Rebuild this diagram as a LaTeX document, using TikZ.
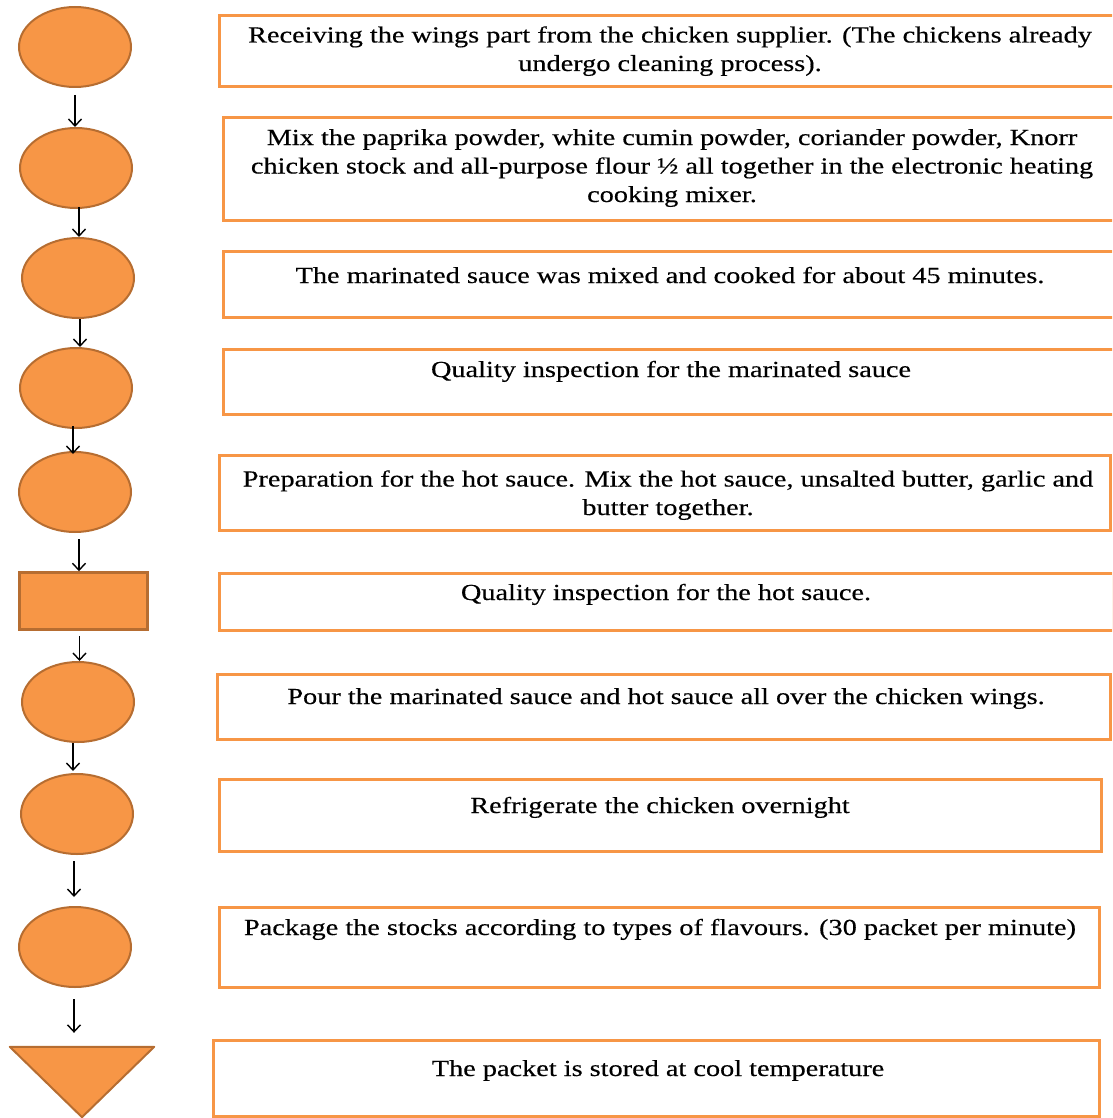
\documentclass[tikz,border=0pt]{standalone}
\usepackage{fontspec}
\setmainfont{Liberation Serif}[FakeStretch=1.23,FakeBold=0.4]
\usetikzlibrary{arrows.meta,calc,shapes.geometric}
\definecolor{accent}{HTML}{F79646}
\definecolor{accentdark}{HTML}{B66D31}

\begin{document}
\begin{tikzpicture}[x=1pt,y=-1pt,
  op/.style={ellipse, draw=accentdark, fill=accent, line width=2pt,
    minimum width=112pt, minimum height=80pt, inner sep=0pt},
  inspect/.style={rectangle, draw=accentdark, fill=accent, line width=2.5pt,
    minimum width=128pt, minimum height=57pt, inner sep=0pt},
  stepbox/.style={rectangle, draw=accent, line width=3pt, inner sep=0pt},
  steptext/.style={align=center, inner sep=0pt, anchor=base,
    font=\fontsize{23}{28.5}\selectfont},
  flow/.style={line width=1.4pt, -{Straight Barb[length=7pt,width=13pt,line width=1.4pt]}}
]
\useasboundingbox (0,0) rectangle (1112,1118);
\clip (0,0) rectangle (1112,1118);

% symbols column
\node[op] (o1) at (75,47) {};
\node[op] (o2) at (76,168) {};
\node[op] (o3) at (78,278) {};
\node[op] (o4) at (76,388) {};
\node[op] (o5) at (75,492) {};
\node[inspect] (r6) at (83.5,601) {};
\node[op] (o7) at (78,702) {};
\node[op] (o8) at (77,814) {};
\node[op] (o9) at (75,947) {};
\node[minimum width=144pt, minimum height=70pt, inner sep=0pt] (tri) at (82,1082) {};
\draw[draw=accentdark, fill=accent, line width=2pt, line join=round]
  (tri.north west) -- (tri.north east) -- (tri.south) -- cycle;

% connectors
\draw[flow, shorten <=7pt] (o1.south) -- (o1.south |- o2.north);
\draw[flow] ($(o2.south)+(3,-2)$) -- ($(o2.south |- o3.north)+(3,0)$);
\draw[flow] ($(o3.south)+(2,0)$) -- ($(o3.south |- o4.north)+(2,0)$);
\draw[flow] ($(o4.south)+(-3,-3)$) -- ($(o4.south |- o5.north)+(-3,3)$);
\draw[flow, shorten <=6pt] ($(o5.south)+(4,0)$) -- ($(o5.south |- r6.north)+(4,0)$);
\draw[flow, shorten <=5pt] ($(r6.south)+(-4,0)$) -- ($(r6.south |- o7.north)+(-4,0)$);
\draw[flow] ($(o7.south)+(-5,0)$) -- ($(o7.south |- o8.north)+(-5,-2)$);
\draw[flow, shorten <=6pt, shorten >=9pt] ($(o8.south)+(-3,0)$) -- ($(o8.south |- o9.north)+(-3,0)$);
\draw[flow, shorten <=11pt, shorten >=14pt] ($(o9.south)+(-1,0)$) -- ($(o9.south |- tri.north)+(-1,0)$);

% description boxes
\node[stepbox, minimum width=901pt, minimum height=71pt] (b1) at (669.5,51.5) {};
\node[stepbox, minimum width=897pt, minimum height=102pt] (b2) at (671.5,169) {};
\node[stepbox, minimum width=897pt, minimum height=66pt] (b3) at (671.5,284) {};
\node[stepbox, minimum width=897pt, minimum height=65pt] (b4) at (671.5,381.5) {};
\node[stepbox, minimum width=891pt, minimum height=75pt] (b5) at (664.5,492.5) {};
\node[stepbox, minimum width=894pt, minimum height=57pt] (b6) at (666,601.5) {};
\node[stepbox, minimum width=893pt, minimum height=65pt] (b7) at (663.5,706.5) {};
\node[stepbox, minimum width=882pt, minimum height=72pt] (b8) at (660,815) {};
\node[stepbox, minimum width=880pt, minimum height=80pt] (b9) at (659,947) {};
\node[stepbox, minimum width=886pt, minimum height=76pt] (b10) at (656,1078) {};

% descriptions (placed by the baseline of their last line)
\node[steptext] (t1) at (670,71) {Receiving the wings part from the chicken supplier. (The chickens already\\undergo cleaning process).};
\node[steptext] (t2) at (672,202) {Mix the paprika powder, white cumin powder, coriander powder, Knorr\\chicken stock and all-purpose flour ½ all together in the electronic heating\\cooking mixer.};
\node[steptext] (t3) at (670,283) {The marinated sauce was mixed and cooked for about 45 minutes.};
\node[steptext] (t4) at (671,377) {Quality inspection for the marinated sauce};
\node[steptext] (t5) at (668,515) {Preparation for the hot sauce. Mix the hot sauce, unsalted butter, garlic and\\butter together.};
\node[steptext] (t6) at (666,600) {Quality inspection for the hot sauce.};
\node[steptext] (t7) at (666,704) {Pour the marinated sauce and hot sauce all over the chicken wings.};
\node[steptext] (t8) at (660,813) {Refrigerate the chicken overnight};
\node[steptext] (t9) at (660,935) {Package the stocks according to types of flavours. (30 packet per minute)};
\node[steptext] (t10) at (658,1076) {The packet is stored at cool temperature};
\end{tikzpicture}
\end{document}
